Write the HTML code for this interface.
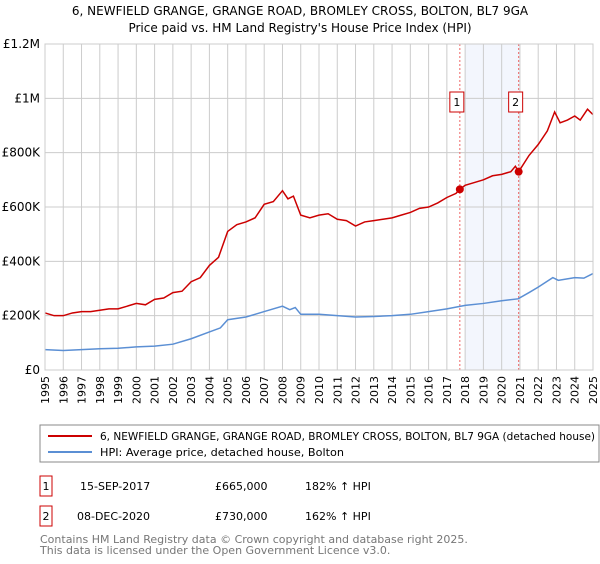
<!DOCTYPE html>
<html><head><meta charset="utf-8"><style>
body{margin:0;width:600px;height:560px;background:#fff;font-family:"DejaVu Sans","Liberation Sans",sans-serif;overflow:hidden}
svg text{font-family:"DejaVu Sans","Liberation Sans",sans-serif}
</style></head><body>
<svg id="chart" width="600" height="560">
<text x="300" y="15" text-anchor="middle" font-size="12">6, NEWFIELD GRANGE, GRANGE ROAD, BROMLEY CROSS, BOLTON, BL7 9GA</text>
<text x="300" y="32" text-anchor="middle" font-size="12">Price paid vs. HM Land Registry's House Price Index (HPI)</text>
<g id="grid"></g><g id="marks"></g><g id="axes"></g>
<rect x="40" y="425" width="559" height="37" fill="#fff" stroke="#888"/>
<line x1="48" y1="436" x2="92" y2="436" stroke="#cc0000" stroke-width="2"/>
<text x="100" y="440" font-size="11" textLength="495" lengthAdjust="spacingAndGlyphs">6, NEWFIELD GRANGE, GRANGE ROAD, BROMLEY CROSS, BOLTON, BL7 9GA (detached house)</text>
<line x1="48" y1="452" x2="92" y2="452" stroke="#5b8fd4" stroke-width="2"/>
<text x="100" y="456" font-size="11" textLength="244" lengthAdjust="spacingAndGlyphs">HPI: Average price, detached house, Bolton</text>
<g font-size="11">
<rect x="40" y="476" width="12" height="20" fill="#fff" stroke="#cc0000"/>
<text x="46" y="490" text-anchor="middle">1</text>
<text x="80" y="490">15-SEP-2017</text>
<text x="215" y="490">£665,000</text>
<text x="305" y="490">182% ↑ HPI</text>
<rect x="40" y="506" width="12" height="20" fill="#fff" stroke="#cc0000"/>
<text x="46" y="520" text-anchor="middle">2</text>
<text x="77" y="520">08-DEC-2020</text>
<text x="215" y="520">£730,000</text>
<text x="305" y="520">162% ↑ HPI</text>
</g>
<text x="40" y="543" font-size="11" fill="#777">Contains HM Land Registry data © Crown copyright and database right 2025.</text>
<text x="40" y="554" font-size="11" fill="#777">This data is licensed under the Open Government Licence v3.0.</text>
</svg>
<script>
const yTicks=[0,200000,400000,600000,800000,1000000,1200000];
const yTickLabels=["£0","£200K","£400K","£600K","£800K","£1M","£1.2M"];
const xYears=[1995,1996,1997,1998,1999,2000,2001,2002,2003,2004,2005,2006,2007,2008,2009,2010,2011,2012,2013,2014,2015,2016,2017,2018,2019,2020,2021,2022,2023,2024,2025];
const hpiYears=[1995,1996,1997,1998,1999,2000,2001,2002,2003,2004,2004.6,2005,2006,2006.5,2007,2008,2008.4,2008.7,2009,2010,2011,2012,2013,2014,2015,2016,2017,2018,2019,2020,2020.9,2021.5,2022,2022.8,2023.1,2024,2024.5,2025];
const hpiValues=[75000,72000,75000,78000,80000,85000,88000,95000,115000,140000,155000,185000,195000,205000,215000,235000,222000,230000,205000,205000,200000,195000,197000,200000,205000,215000,225000,238000,245000,255000,262000,285000,305000,340000,330000,340000,338000,355000];
const priceYears=[1995,1995.5,1996,1996.5,1997,1997.5,1998,1998.5,1999,1999.5,2000,2000.5,2001,2001.5,2002,2002.5,2003,2003.5,2004,2004.5,2005,2005.5,2006,2006.5,2007,2007.5,2008,2008.3,2008.6,2009,2009.5,2010,2010.5,2011,2011.5,2012,2012.5,2013,2013.5,2014,2014.5,2015,2015.5,2016,2016.5,2017,2017.5,2017.71,2018,2018.5,2019,2019.5,2020,2020.5,2020.75,2020.93,2021.5,2022,2022.5,2022.9,2023.2,2023.6,2024,2024.3,2024.7,2025];
const priceValues=[210000,200000,200000,210000,215000,215000,220000,225000,225000,235000,245000,240000,260000,265000,285000,290000,325000,340000,385000,415000,510000,535000,545000,560000,610000,620000,660000,630000,640000,570000,560000,570000,575000,555000,550000,530000,545000,550000,555000,560000,570000,580000,595000,600000,615000,635000,650000,665000,680000,690000,700000,715000,720000,730000,750000,730000,790000,830000,880000,950000,910000,920000,935000,920000,960000,940000];
const saleYears=[2017.71,2020.93];
const saleValues=[665000,730000];
const saleLabels=["1","2"];
const X0=45,X1=593,Y0=370,Y1=44;
const xs=y=>X0+(y-1995)/30*(X1-X0);
const ys=v=>Y0-v/1200000*(Y0-Y1);
const NS="http://www.w3.org/2000/svg";
function mk(p,t,a){const e=document.createElementNS(NS,t);for(const k in a)e.setAttribute(k,a[k]);p.appendChild(e);return e;}
const grid=document.getElementById('grid'),marks=document.getElementById('marks'),axes=document.getElementById('axes');
const band=mk(grid,'rect',{x:xs(2018),y:Y1,width:xs(2021)-xs(2018),height:Y0-Y1,fill:'#f3f6fd'});


xYears.forEach(y=>{const l=mk(grid,'line',{x1:xs(y),x2:xs(y),y1:Y1,y2:Y0,stroke:'#ccc'});


const t=mk(axes,'text',{x:0,y:0,'font-size':11,'text-anchor':'end',transform:`translate(${xs(y)+4},${Y0+6}) rotate(-90)`});
t.textContent=y;

});
yTicks.forEach((v,i)=>{const l=mk(grid,'line',{x1:X0,x2:X1,y1:ys(v),y2:ys(v),stroke:'#ccc'});


const t=mk(axes,'text',{x:X0-5,y:ys(v)+4,'font-size':12,'text-anchor':'end'});
t.textContent=yTickLabels[i];

});
saleYears.forEach((y,i)=>{const l=mk(marks,'line',{x1:xs(y),x2:xs(y),y1:Y1,y2:Y0,stroke:'#e66','stroke-dasharray':'2,2'});

});
const hpi=mk(marks,'polyline',{points:hpiYears.map((y,i)=>xs(y)+','+ys(hpiValues[i])).join(' '),fill:'none',stroke:'#5b8fd4','stroke-width':1.5});


const pr=mk(marks,'polyline',{points:priceYears.map((y,i)=>xs(y)+','+ys(priceValues[i])).join(' '),fill:'none',stroke:'#cc0000','stroke-width':1.5});


saleYears.forEach((y,i)=>{const c=mk(marks,'circle',{cx:xs(y),cy:ys(saleValues[i]),r:4,fill:'#cc0000'});


const r=mk(marks,'rect',{x:xs(y)-10,y:92,width:14,height:20,fill:'#fff',stroke:'#cc0000'});


const t=mk(marks,'text',{x:xs(y)-3,y:106,'font-size':11,'text-anchor':'middle'});
t.textContent=saleLabels[i];

});
const ax=mk(axes,'rect',{x:X0,y:Y1,width:X1-X0,height:Y0-Y1,fill:'none',stroke:'#ccc'});


</script>
</body></html>
